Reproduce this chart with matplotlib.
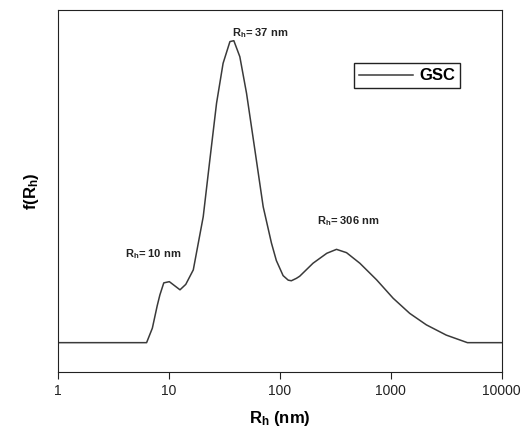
import matplotlib
matplotlib.use("Agg")
import matplotlib.pyplot as plt

plt.rcParams['font.family'] = ['Liberation Sans', 'DejaVu Sans']
plt.rcParams['mathtext.fontset'] = 'custom'
plt.rcParams['mathtext.rm'] = 'Liberation Sans'
plt.rcParams['mathtext.bf'] = 'Liberation Sans:bold'

# size distribution (peak normalised to 1)
rh = [1, 6.3, 7.1, 7.85, 8.3, 9.0, 10.1, 12.6, 14.2, 16.6, 20.4, 23.4, 26.9, 30.8,
      35.5, 38.5, 43.6, 50.1, 59.6, 70.8, 84, 93, 107, 119, 127, 141, 151, 199,
      265, 324, 399, 526, 745, 1050, 1480, 2090, 3160, 4900, 10000]
f_rh = [0, 0, 0.048, 0.122, 0.158, 0.198, 0.202, 0.175, 0.193, 0.241, 0.417, 0.605,
        0.793, 0.925, 0.997, 1.0, 0.947, 0.826, 0.638, 0.450, 0.33, 0.272, 0.222,
        0.207, 0.205, 0.213, 0.220, 0.263, 0.296, 0.309, 0.298, 0.263, 0.208,
        0.147, 0.097, 0.059, 0.025, 0, 0]

peak_labels = ["10", "37", "306"]
label_x = [4.0, 37, 214]
label_y = [0.294, 1.025, 0.403]
xticks = [1, 10, 100, 1000, 10000]

fig = plt.figure(figsize=(5.31, 4.30), dpi=100)
ax = fig.add_axes([0.109, 0.135, 0.836, 0.842])
ax.plot(rh, f_rh, color='#3a3a3a', lw=1.1, label='GSC')
ax.set_xscale('log')
ax.set_xlim(1, 10000)
ax.set_ylim(-0.097, 1.102)
ax.set_xticks(xticks)
ax.set_xticklabels([str(t) for t in xticks])
ax.minorticks_off()
ax.set_yticks([])
ax.tick_params(axis='x', direction='out', length=5, labelsize=10, colors='#222222')
for s in ax.spines.values():
    s.set_color('#222222')

for lab, x, y in zip(peak_labels, label_x, label_y):
    ax.text(x, y, r'$\mathbf{R_h}$= ' + lab + ' nm', fontsize=8, fontweight='bold',
            ha='left', va='center', color='#222222')

ax.set_xlabel(r'$\mathbf{R_h}$ (nm)', fontsize=12, fontweight='bold', labelpad=8)
ax.set_ylabel(r'$\mathbf{f(R_h)}$', fontsize=12, fontweight='bold', labelpad=12)

leg = ax.legend(loc='upper right', bbox_to_anchor=(0.925, 0.875), fancybox=False,
                edgecolor='#222222', framealpha=1, handlelength=3.2,
                prop={'weight': 'bold', 'size': 12}, borderpad=0.3, handletextpad=0.4)
leg.get_frame().set_linewidth(1.0)

fig.savefig('out.png', dpi=100)
